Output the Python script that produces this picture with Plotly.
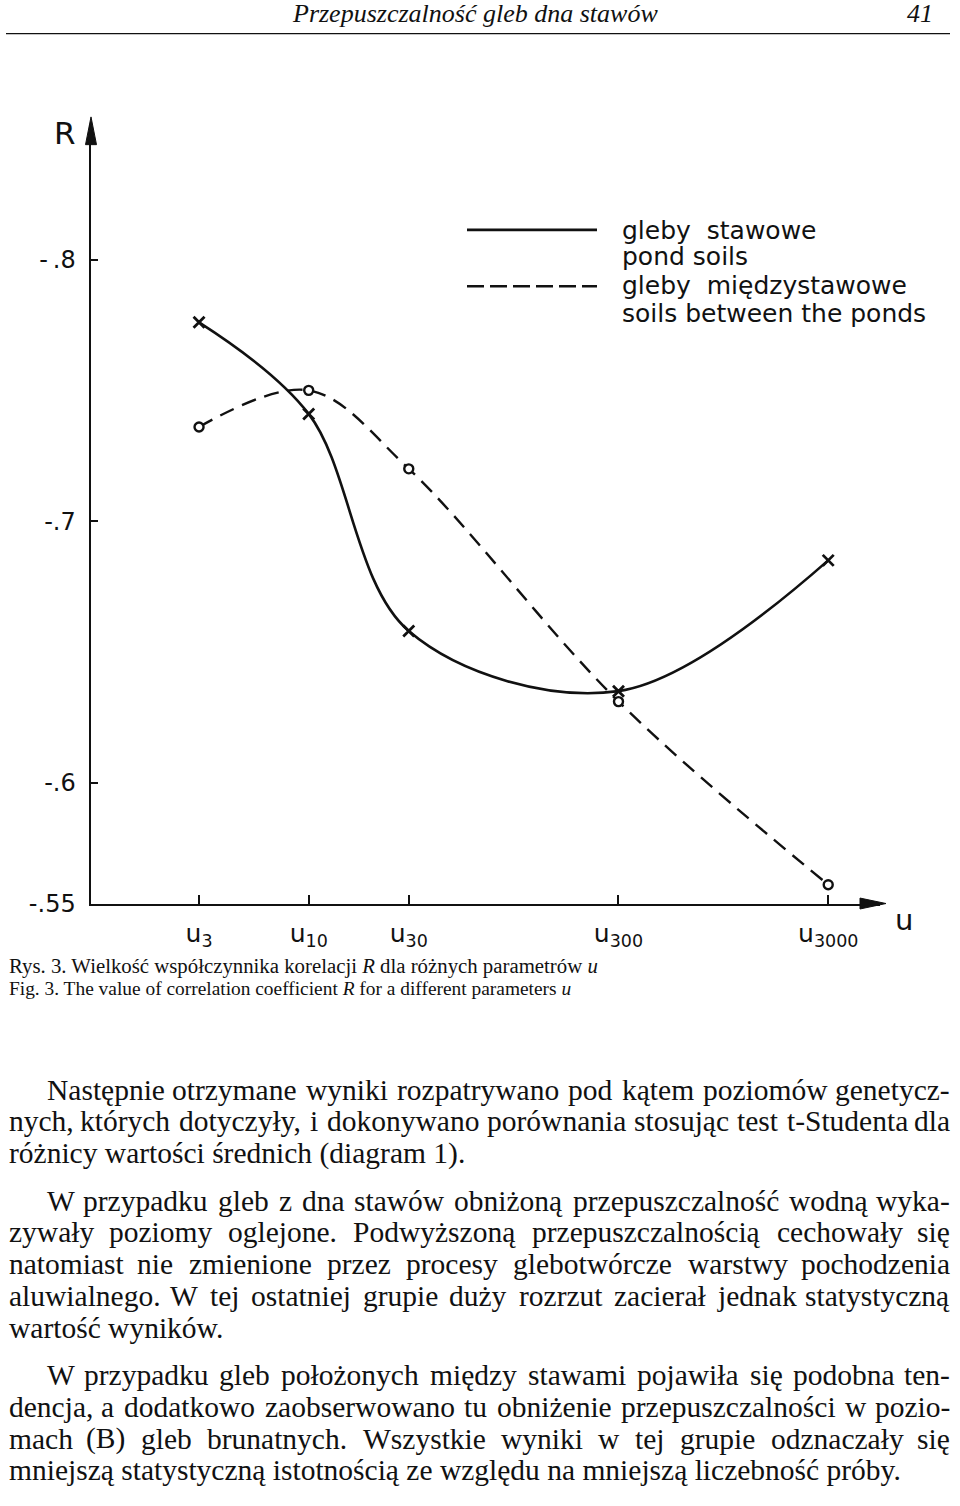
import plotly.graph_objects as go

W, H = 960, 1506

# ---------------- data ----------------
u_params = [3, 10, 30, 300, 3000]
u_tick_text = ["u<sub>3</sub>", "u<sub>10</sub>", "u<sub>30</sub>", "u<sub>300</sub>", "u<sub>3000</sub>"]
r_pond = [-0.776, -0.741, -0.658, -0.635, -0.685]        # gleby stawowe (solid, x)
r_between = [-0.736, -0.750, -0.720, -0.631, -0.561]     # gleby międzystawowe (dashed, o)
r_axis_min, r_axis_max = -0.5538, -0.8519                # hand-drawn axis: origin labelled -.55
r_tick_vals = [-0.8, -0.7, -0.6, r_axis_min]
r_tick_text = ["-\u2009.8", "-.7", "-.6", "-.55"]
legend_pond = ["gleby\u00a0\u00a0stawowe", "pond soils"]
legend_between = ["gleby\u00a0\u00a0międzystawowe", "soils between the ponds"]

header_title = "Przepuszczalność gleb dna stawów"
page_number = "41"
caption_pl = "Rys. 3. Wielkość współczynnika korelacji <i>R</i> dla różnych parametrów <i>u</i>"
caption_en = "Fig. 3. The value of correlation coefficient <i>R</i> for a different parameters <i>u</i>"

paragraphs = [
    ["Następnie otrzymane wyniki rozpatrywano pod kątem poziomów genetycz-",
     "nych, których dotyczyły, i dokonywano porównania stosując test t-Studenta dla",
     "różnicy wartości średnich (diagram 1)."],
    ["W przypadku gleb z dna stawów obniżoną przepuszczalność wodną wyka-",
     "zywały poziomy oglejone. Podwyższoną przepuszczalnością cechowały się",
     "natomiast nie zmienione przez procesy glebotwórcze warstwy pochodzenia",
     "aluwialnego. W tej ostatniej grupie duży rozrzut zacierał jednak statystyczną",
     "wartość wyników."],
    ["W przypadku gleb położonych między stawami pojawiła się podobna ten-",
     "dencja, a dodatkowo zaobserwowano tu obniżenie przepuszczalności w pozio-",
     "mach (B) gleb brunatnych. Wszystkie wyniki w tej grupie odznaczały się",
     "mniejszą statystyczną istotnością ze względu na mniejszą liczebność próby."],
]

# ---------------- helpers (page pixel -> paper) ----------------
def px(x):
    return x / W

def py(y):
    return 1 - y / H

INK = "#111111"
SANS = "DejaVu Sans"
SERIF = "Liberation Serif"

# plot area in page pixels
X0, X1, Y0, Y1 = 91, 880, 125, 912

fig = go.Figure()

fig.add_trace(go.Scatter(
    x=u_params, y=r_pond, mode="lines+markers", name="gleby stawowe",
    line=dict(color=INK, width=2.6, shape="spline", smoothing=1.0),
    marker=dict(symbol="x-thin-open", size=11, color=INK, line=dict(color=INK, width=2.8)),
    cliponaxis=False, showlegend=False,
))
fig.add_trace(go.Scatter(
    x=u_params, y=r_between, mode="lines+markers", name="gleby międzystawowe",
    line=dict(color=INK, width=2.4, shape="spline", smoothing=1.0, dash="15px,9px"),
    marker=dict(symbol="circle", size=9, color="white", line=dict(color=INK, width=2.4)),
    cliponaxis=False, showlegend=False,
))

fig.update_xaxes(
    type="log", range=[-0.038, 3.724], domain=[px(X0), px(X1)],
    showline=True, linecolor=INK, linewidth=2.5, showgrid=False, zeroline=False,
    ticks="inside", ticklen=9, tickwidth=2, tickcolor=INK,
    tickvals=u_params, ticktext=u_tick_text,
    tickfont=dict(family=SANS, size=25, color=INK), ticklabelstandoff=6,
)
fig.update_yaxes(
    range=[r_axis_min, r_axis_max], domain=[py(Y1), py(Y0)],
    showline=True, linecolor=INK, linewidth=2.5, showgrid=False, zeroline=False,
    ticks="inside", ticklen=7, tickwidth=2, tickcolor=INK,
    tickvals=r_tick_vals, ticktext=r_tick_text,
    tickfont=dict(family=SANS, size=24, color=INK), ticklabelstandoff=8,
)

shapes = []
ann = []

# axis arrowheads
shapes.append(dict(type="path", xref="paper", yref="paper",
                   path=f"M {px(91)},{py(118)} L {px(85.5)},{py(146)} L {px(96.5)},{py(146)} Z",
                   fillcolor=INK, line=dict(color=INK, width=1)))
shapes.append(dict(type="path", xref="paper", yref="paper",
                   path=f"M {px(886)},{py(Y1)} L {px(860)},{py(Y1 - 5.5)} L {px(860)},{py(Y1 + 5.5)} Z",
                   fillcolor=INK, line=dict(color=INK, width=1)))

# axis titles
ann.append(dict(text="R", x=px(65), y=py(134), font=dict(family=SANS, size=31, color=INK)))
ann.append(dict(text="u", x=px(904), y=py(929), font=dict(family=SANS, size=29, color=INK)))

# legend (drawn)
shapes.append(dict(type="line", xref="paper", yref="paper", x0=px(467), x1=px(597), y0=py(232), y1=py(232),
                   line=dict(color=INK, width=2.6)))
shapes.append(dict(type="line", xref="paper", yref="paper", x0=px(467), x1=px(597), y0=py(289), y1=py(289),
                   line=dict(color=INK, width=2.6, dash="17px,6px")))
for txt, yy in zip(legend_pond + legend_between, [233, 259, 288, 316]):
    ann.append(dict(text=txt, x=px(620), y=py(yy), xanchor="left",
                    font=dict(family=SANS, size=25, color=INK)))

# header
ann.append(dict(text=f"<i>{header_title}</i>", x=px(475), y=py(14),
                font=dict(family=SERIF, size=26, color=INK)))
ann.append(dict(text=f"<i>{page_number}</i>", x=px(935), y=py(14), xanchor="right",
                font=dict(family=SERIF, size=26, color=INK)))
shapes.append(dict(type="line", xref="paper", yref="paper", x0=px(6), x1=px(950), y0=py(34), y1=py(34),
                   line=dict(color=INK, width=1.2)))

# caption
ann.append(dict(text=caption_pl, x=px(7), y=py(975), xanchor="left",
                font=dict(family=SERIF, size=20.8, color=INK)))
ann.append(dict(text=caption_en, x=px(7), y=py(998), xanchor="left",
                font=dict(family=SERIF, size=19.4, color=INK)))

# body text, justified word by word using approximate Times metrics
TW = {' ': 250, 'a': 444, 'b': 500, 'c': 444, 'd': 500, 'e': 444, 'f': 333, 'g': 500, 'h': 500,
      'i': 278, 'j': 278, 'k': 500, 'l': 278, 'm': 778, 'n': 500, 'o': 500, 'p': 500, 'q': 500,
      'r': 333, 's': 389, 't': 278, 'u': 500, 'v': 500, 'w': 722, 'x': 500, 'y': 500, 'z': 444,
      'ą': 444, 'ę': 444, 'ł': 278, 'ó': 500, 'ś': 389, 'ć': 444, 'ż': 444, 'ź': 444, 'ń': 500,
      'N': 722, 'W': 944, 'P': 556, 'B': 667, 'S': 556, ',': 250, '.': 250, '-': 333, '(': 333,
      ')': 333, '1': 500}

def tw(s, size):
    return sum(TW.get(c, 500) for c in s) / 1000.0 * size

BODY_SIZE = 29.5
LEFT, RIGHT, INDENT = 7, 952, 38
LINE_STEP, PARA_GAP = 32, 16
y = 1100
for para in paragraphs:
    for i, line in enumerate(para):
        left = LEFT + (INDENT if i == 0 else 0)
        last = (i == len(para) - 1)
        font = dict(family=SERIF, size=BODY_SIZE, color=INK)
        if last:
            ann.append(dict(text=line, x=px(left), y=py(y), xanchor="left", font=font))
        else:
            words = line.split(" ")
            widths = [tw(w, BODY_SIZE) for w in words]
            gap = max(4.0, (RIGHT - left - sum(widths)) / (len(words) - 1))
            xx = left
            n = len(words)
            for j, (wd, wl) in enumerate(zip(words, widths)):
                if j == 0:
                    ann.append(dict(text=wd, x=px(left), y=py(y), xanchor="left", font=font))
                elif j == n - 1:
                    ann.append(dict(text=wd, x=px(RIGHT), y=py(y), xanchor="right", font=font))
                else:
                    ann.append(dict(text=wd, x=px(xx + wl / 2), y=py(y), xanchor="center", font=font))
                xx += wl + gap
        y += LINE_STEP
    y += PARA_GAP

for a in ann:
    a.setdefault("xref", "paper")
    a.setdefault("yref", "paper")
    a.setdefault("showarrow", False)
    a.setdefault("xanchor", "center")
    a.setdefault("yanchor", "middle")

fig.update_layout(
    width=W, height=H, margin=dict(l=0, r=0, t=0, b=0),
    paper_bgcolor="white", plot_bgcolor="white",
    shapes=shapes, annotations=ann, showlegend=False,
)

# remove the browser's default body margin so the figure sits at the page origin
fig.write_html(
    "out.html",
    config={"displayModeBar": False, "staticPlot": True},
    post_script="document.body.style.margin='0';"
                "document.documentElement.style.overflow='hidden';",
)
